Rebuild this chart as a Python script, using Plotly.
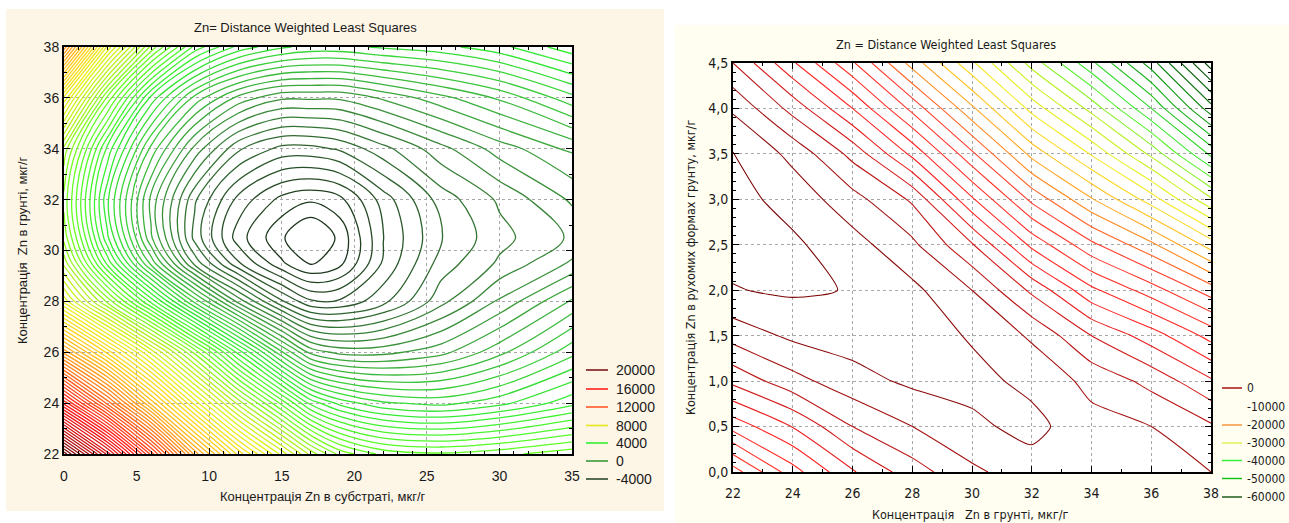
import plotly.graph_objects as go

W, H = 1289, 523

# ---------------- data ----------------
# Left chart: Zn in substrate (x) vs Zn in soil (y)
left_x = [0, 3, 6, 9, 12, 15, 17, 19, 22, 26, 30, 35]
left_y = [22, 24, 26, 28, 29.5, 30.5, 32, 34, 36, 38]
left_z = [
    [20900, 17900, 14600, 11300, 8900, 7100, 5900, 5000, 4400, 4250, 4400, 4700],
    [15800, 13100, 10400, 8000, 5900, 4100, 2900, 2300, 1850, 1700, 2000, 2600],
    [11300, 9200, 7100, 5000, 2900, 950, -100, -400, -400, -100, 500, 1400],
    [7400, 5300, 3200, 1100, -700, -2050, -2650, -2650, -2200, -1300, -550, 350],
    [5900, 3200, 800, -1300, -2650, -3550, -3940, -3700, -2650, -1660, -1150, -550],
    [5300, 2450, 50, -1900, -3160, -3850, -4300, -3820, -2710, -1810, -1300, -850],
    [5000, 2150, -100, -1750, -2800, -3400, -3550, -3400, -2560, -1660, -1150, -550],
    [5600, 2900, 800, -700, -1750, -2200, -2200, -2050, -1600, -1000, -460, 50],
    [8000, 4700, 2300, 800, -100, -550, -550, -550, -250, 200, 650, 1400],
    [11900, 7700, 5000, 3200, 2300, 1850, 1700, 1700, 1850, 2000, 2300, 2900],
]
left_legend_levels = [20000, 16000, 12000, 8000, 4000, 0, -4000]
left_legend_colors = ['#7a1a1a', '#ff2020', '#ff5a28', '#e8e81a', '#33f033', '#3a9a3a', '#2a4a2a']

# Right chart: Zn in soil (x) vs Zn in mobile forms (y)
right_x = [22, 24, 26, 28, 30, 32, 34, 36, 38]
right_y = [0, 0.5, 1, 1.5, 2, 2.5, 3, 3.5, 4, 4.5]
right_z = [
    [-19000, -12800, -8200, -4900, -2400, -900, -900, -1400, -2000],
    [-11200, -7900, -4000, -2000, -400, 600, -1300, -2000, -3700],
    [-5500, -2700, -750, 400, 600, -500, -2600, -4600, -7700],
    [-1200, 400, 900, 1000, -200, -2300, -6000, -9000, -12700],
    [1900, 2300, 1900, 500, -2000, -6400, -11500, -15000, -19000],
    [2600, 2350, 800, -1550, -5800, -12500, -17500, -21500, -26900],
    [2700, 1270, -1250, -4300, -11700, -18500, -23800, -29000, -35700],
    [2100, -570, -4600, -10500, -17600, -24600, -30200, -36500, -44500],
    [-300, -4700, -10000, -16600, -23600, -30700, -36700, -44000, -53200],
    [-4000, -9700, -15700, -22800, -29600, -36800, -43500, -51000, -61000],
]
right_legend_levels = [0, -10000, -20000, -30000, -40000, -50000, -60000]
right_legend_colors = ['#a00000', 'rgba(0,0,0,0)', '#f59030', '#e0f050', '#30f030', '#10c010', '#105010']

left_title = 'Zn= Distance Weighted Least Squares'
left_xtitle = 'Концентрація Zn в субстраті, мкг/г'
left_ytitle = 'Концентрація  Zn в грунті, мкг/г'
right_title = 'Zn = Distance Weighted Least Squares'
right_xtitle = 'Концентрація   Zn в грунті, мкг/г'
right_ytitle = 'Концентрація Zn в рухомих формах грунту, мкг/г'

# ---------------- styling helpers ----------------
def fx(p):
    return p / W


def fy(p):
    return 1 - p / H


def scale(anchors, colors, lo, hi):
    return [[(a - lo) / (hi - lo), c] for a, c in sorted(zip(anchors, colors))]


L_START, L_END, L_SIZE = -3900, 21000, 300
R_START, R_END, R_SIZE = -60000, 2000, 2000

left_cs = scale(
    [-3900, -2500, -800, 1000, 2500, 4500, 6000, 7500, 9500, 11500, 13500, 16000, 18500, 21000],
    ['#1c331c', '#2a552a', '#3a8a3a', '#3cc83c', '#33ee33', '#66ff22', '#b4f020', '#e6f01a',
     '#ffd21a', '#ff9a1a', '#ff5a1a', '#ff1e1e', '#c81010', '#6e0a0a'],
    L_START, L_END)
right_cs = scale(
    [-60000, -54000, -48000, -41000, -36000, -31000, -27000, -22000, -18000, -10000, -5000, 0, 2000],
    ['#004000', '#0a700a', '#18b018', '#40f030', '#b8f020', '#f0f020', '#ffd020', '#ff8a20',
     '#ff3a2a', '#ff2020', '#c81818', '#8b0a0a', '#7a0000'],
    R_START, R_END)

FONT = 'Liberation Sans, Arial, sans-serif'
NARROW = 'Liberation Sans Narrow, Arial Narrow, DejaVu Sans Condensed, Liberation Sans, sans-serif'

L_DX = [fx(64), fx(572)]
L_DY = [fy(454), fy(47)]
R_DX = [fx(733), fx(1211)]
R_DY = [fy(472), fy(63)]

fig = go.Figure()
fig.add_trace(go.Contour(
    x=left_x, y=left_y, z=left_z, xaxis='x', yaxis='y',
    autocontour=False,
    contours=dict(start=L_START, end=L_END, size=L_SIZE, coloring='lines', showlabels=False),
    colorscale=left_cs, showscale=False,
    line=dict(width=1.3, smoothing=1.0), hoverinfo='skip'))
fig.add_trace(go.Contour(
    x=right_x, y=right_y, z=right_z, xaxis='x2', yaxis='y2',
    autocontour=False,
    contours=dict(start=R_START, end=R_END, size=R_SIZE, coloring='lines', showlabels=False),
    colorscale=right_cs, showscale=False,
    line=dict(width=1.1, smoothing=0.6), hoverinfo='skip'))


def axis(domain, rng, dtick, minor, font, anchor, standoff=None, fmt=None):
    d = dict(domain=domain, range=rng, dtick=dtick, tick0=rng[0], ticks='inside', ticklen=6,
             tickwidth=1, tickcolor='black', mirror='ticks', showline=True, linecolor='black',
             linewidth=2, showgrid=True, gridcolor='#a8a8a8', griddash='dot', gridwidth=1,
             zeroline=False, tickfont=dict(family=font, size=14, color='#1a1a1a'),
             minor=dict(dtick=minor, ticks='inside', ticklen=3, tickcolor='black', showgrid=False),
             automargin=False, anchor=anchor, fixedrange=True)
    if standoff is not None:
        d['ticklabelstandoff'] = standoff
    if fmt:
        d['tickformat'] = fmt
    return d


shapes = [
    dict(type='rect', xref='paper', yref='paper', x0=fx(6), x1=fx(664), y0=fy(511), y1=fy(9),
         fillcolor='#FDF5E6', line=dict(width=0), layer='below'),
    dict(type='rect', xref='paper', yref='paper', x0=fx(675), x1=1.0, y0=0.0, y1=fy(25),
         fillcolor='#FFFEF0', line=dict(width=0), layer='below'),
    dict(type='rect', xref='paper', yref='paper', x0=L_DX[0], x1=L_DX[1], y0=L_DY[0], y1=L_DY[1],
         fillcolor='white', line=dict(width=0), layer='below'),
    dict(type='rect', xref='paper', yref='paper', x0=R_DX[0], x1=R_DX[1], y0=R_DY[0], y1=R_DY[1],
         fillcolor='white', line=dict(width=0), layer='below'),
]

annotations = [
    dict(text=left_title, x=fx(305), y=fy(28), font=dict(family=FONT, size=13, color='#1a1a1a')),
    dict(text=left_xtitle, x=fx(323), y=fy(496), font=dict(family=FONT, size=13, color='#1a1a1a')),
    dict(text=left_ytitle, x=fx(22), y=fy(250), textangle=-90,
         font=dict(family=FONT, size=13, color='#1a1a1a')),
    dict(text=right_title, x=fx(946), y=fy(44), font=dict(family=NARROW, size=12.5, color='#1a1a1a')),
    dict(text=right_xtitle, x=fx(970), y=fy(514), font=dict(family=NARROW, size=12.5, color='#1a1a1a')),
    dict(text=right_ytitle, x=fx(690), y=fy(268), textangle=-90,
         font=dict(family=NARROW, size=12.5, color='#1a1a1a')),
]
for a in annotations:
    a.update(xref='paper', yref='paper', showarrow=False, xanchor='center', yanchor='middle')

# legends (line samples + labels)
left_rows = [370, 389, 407, 425.5, 443, 461, 479]
for lvl, col, ry in zip(left_legend_levels, left_legend_colors, left_rows):
    shapes.append(dict(type='line', xref='paper', yref='paper', x0=fx(586), x1=fx(608),
                       y0=fy(ry), y1=fy(ry), line=dict(color=col, width=1.6)))
    annotations.append(dict(text=str(lvl), xref='paper', yref='paper', x=fx(614), y=fy(ry),
                            xanchor='left', yanchor='middle', showarrow=False,
                            font=dict(family=FONT, size=14, color='#1a1a1a')))
right_rows = [388, 406.5, 425, 443, 460.5, 478.5, 497]
for lvl, col, ry in zip(right_legend_levels, right_legend_colors, right_rows):
    shapes.append(dict(type='line', xref='paper', yref='paper', x0=fx(1222), x1=fx(1242),
                       y0=fy(ry), y1=fy(ry), line=dict(color=col, width=1.4)))
    annotations.append(dict(text=str(lvl), xref='paper', yref='paper', x=fx(1245), y=fy(ry),
                            xanchor='left', yanchor='middle', showarrow=False,
                            font=dict(family=NARROW, size=12, color='#1a1a1a')))

fig.update_layout(
    width=W, height=H, autosize=False,
    margin=dict(l=0, r=0, t=0, b=0, pad=0),
    paper_bgcolor='white', plot_bgcolor='white',
    showlegend=False, separators=', ',
    xaxis=axis(L_DX, [0, 35], 5, 1, FONT, 'y', standoff=8),
    yaxis=axis(L_DY, [22, 38], 2, 1, FONT, 'x'),
    xaxis2=axis(R_DX, [22, 38], 2, 1, NARROW, 'y2', standoff=7),
    yaxis2=axis(R_DY, [0, 4.5], 0.5, 0.1, NARROW, 'x2', fmt='.1f'),
    shapes=shapes, annotations=annotations,
)

fig.write_html("out.html", config={'displayModeBar': False},
               post_script="document.body.style.margin='0px';document.body.style.overflow='hidden';")
